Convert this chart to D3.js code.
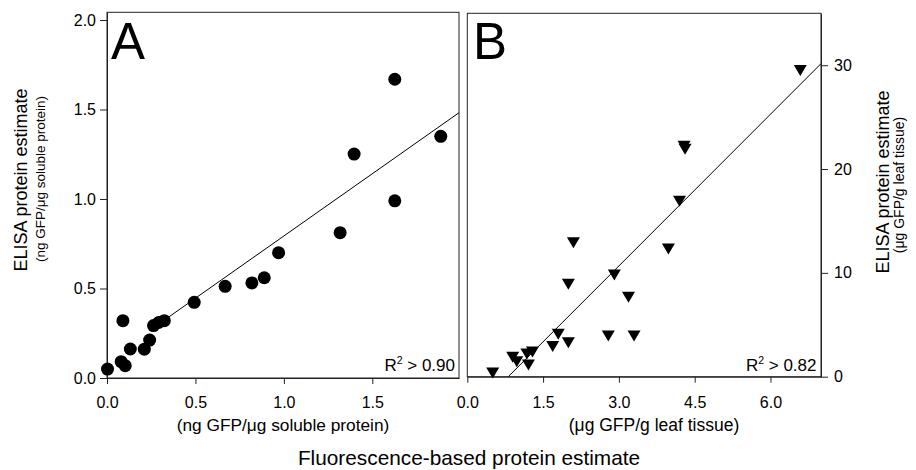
<!DOCTYPE html>
<html><head><meta charset="utf-8">
<script src="https://cdn.jsdelivr.net/npm/d3@7"></script>
<style>
body{margin:0;background:#fff;}
svg{display:block;font-family:"Liberation Sans",Arial,sans-serif;}
</style></head>
<body>
<svg id="c" width="916" height="470"></svg>
<script>
// Panel A: ng GFP/µg soluble protein
const aX = [0.003,0.08,0.103,0.09,0.132,0.211,0.241,0.263,0.292,0.324,0.493,0.668,0.819,0.889,0.97,1.318,1.397,1.627,1.627,1.887];
const aY = [0.05,0.091,0.069,0.32,0.162,0.161,0.212,0.293,0.31,0.32,0.423,0.512,0.531,0.56,0.70,0.812,1.251,0.99,1.669,1.35];
const aFitX = [0.24, 1.99];
const aFitY = [0.265, 1.482];
const aTicksX = [0, 0.5, 1.0, 1.5];
const aTicksY = [0, 0.5, 1.0, 1.5, 2.0];

// Panel B: µg GFP/g leaf tissue
const bX = [0.503,0.899,0.979,1.21,1.18,1.29,1.69,1.80,2.0,2.0,2.10,2.79,2.91,3.19,3.30,3.98,4.20,4.29,4.31,6.59];
const bY = [0.36,1.87,1.45,1.13,2.19,2.38,2.9,4.09,3.28,8.9,12.9,3.93,9.8,7.66,3.93,12.3,16.9,22.2,21.9,29.5];
const bFitX = [0.81, 7.0];
const bFitY = [0, 30.15];
const bTicksX = [0, 1.5, 3.0, 4.5, 6.0];
const bTicksY = [0, 10, 20, 30];

const svg = d3.select("#c");
const ink = "#000";

// ---------- Panel A ----------
const xA = d3.scaleLinear().domain([0, 1.99]).range([107, 459]);
const yA = d3.scaleLinear().domain([0, 2.043]).range([378, 12.3]);

const gA = svg.append("g");
gA.append("rect").attr("x", xA.range()[0]).attr("y", yA.range()[1])
  .attr("width", xA.range()[1]-xA.range()[0]).attr("height", yA.range()[0]-yA.range()[1])
  .attr("fill","none").attr("stroke","#222").attr("stroke-width",1);

gA.append("g").attr("transform",`translate(0,${yA.range()[0]})`)
  .call(d3.axisBottom(xA).tickValues(aTicksX).tickFormat(d3.format(".1f")).tickSize(6).tickPadding(13).tickSizeOuter(0));
gA.append("g").attr("transform",`translate(${xA.range()[0]},0)`)
  .call(d3.axisLeft(yA).tickValues(aTicksY).tickFormat(d3.format(".1f")).tickSize(7).tickPadding(4).tickSizeOuter(0));

gA.append("line").attr("x1", xA(aFitX[0])).attr("y1", yA(aFitY[0]))
  .attr("x2", xA(aFitX[1])).attr("y2", yA(aFitY[1])).attr("stroke", ink).attr("stroke-width",1);

gA.selectAll("circle.pt").data(aX.map((x,i)=>[x,aY[i]])).join("circle")
  .attr("class","pt").attr("cx",d=>xA(d[0])).attr("cy",d=>yA(d[1])).attr("r",6.5).attr("fill",ink);

gA.append("text").attr("x",111).attr("y",58.5).attr("font-size",51).text("A");
const rA = gA.append("text").attr("x",455).attr("y",371).attr("text-anchor","end").attr("font-size",17);
rA.append("tspan").text("R");
rA.append("tspan").attr("dy",-7).attr("font-size",10.5).text("2");
rA.append("tspan").attr("dy",7).text(" > 0.90");

gA.append("text").attr("x",283).attr("y",431)
  .attr("text-anchor","middle").attr("font-size",17.3).text("(ng GFP/\u03bcg soluble protein)");

gA.append("text").attr("transform","translate(26.5,180) rotate(-90)")
  .attr("text-anchor","middle").attr("font-size",18).text("ELISA protein estimate");
gA.append("text").attr("transform","translate(45,179) rotate(-90)")
  .attr("text-anchor","middle").attr("font-size",13.5).text("(ng GFP/\u03bcg soluble protein)");

// ---------- Panel B ----------
const xB = d3.scaleLinear().domain([0, 7]).range([467.3, 821]);
const yB = d3.scaleLinear().domain([0, 35]).range([376.7, 13.3]);

const gB = svg.append("g");
gB.append("rect").attr("x", xB.range()[0]).attr("y", yB.range()[1])
  .attr("width", xB.range()[1]-xB.range()[0]).attr("height", yB.range()[0]-yB.range()[1])
  .attr("fill","none").attr("stroke","#222").attr("stroke-width",1);

gB.append("g").attr("transform",`translate(0,${yB.range()[0]})`)
  .call(d3.axisBottom(xB).tickValues(bTicksX).tickFormat(d3.format(".1f")).tickSize(6).tickPadding(14).tickSizeOuter(0));
gB.append("g").attr("transform",`translate(${xB.range()[1]},0)`)
  .call(d3.axisRight(yB).tickValues(bTicksY).tickFormat(d3.format("d")).tickSize(7).tickPadding(6).tickSizeOuter(0));

gB.append("line").attr("x1", xB(bFitX[0])).attr("y1", yB(bFitY[0]))
  .attr("x2", xB(bFitX[1])).attr("y2", yB(bFitY[1])).attr("stroke", ink).attr("stroke-width",1);

const tri = "M-6.5,-5.5L6.5,-5.5L0,5.5Z";
gB.selectAll("path.pt").data(bX.map((x,i)=>[x,bY[i]])).join("path")
  .attr("class","pt").attr("d",tri)
  .attr("transform",d=>`translate(${xB(d[0])},${yB(d[1])})`).attr("fill",ink);

gB.append("text").attr("x",473).attr("y",58.5).attr("font-size",51).text("B");
const rB = gB.append("text").attr("x",816.5).attr("y",371).attr("text-anchor","end").attr("font-size",17);
rB.append("tspan").text("R");
rB.append("tspan").attr("dy",-7).attr("font-size",10.5).text("2");
rB.append("tspan").attr("dy",7).text(" > 0.82");

gB.append("text").attr("x",654).attr("y",431)
  .attr("text-anchor","middle").attr("font-size",17.5).text("(\u03bcg GFP/g leaf tissue)");

gB.append("text").attr("transform","translate(889,182) rotate(-90)")
  .attr("text-anchor","middle").attr("font-size",18).text("ELISA protein estimate");
gB.append("text").attr("transform","translate(903.5,185) rotate(-90)")
  .attr("text-anchor","middle").attr("font-size",14).text("(\u03bcg GFP/g leaf tissue)");

// shared x title
svg.append("text").attr("x",469).attr("y",465).attr("text-anchor","middle")
  .attr("font-size",20.8).text("Fluorescence-based protein estimate");

svg.selectAll(".tick text").attr("font-size",16).attr("fill",ink).attr("font-family","'Liberation Sans',Arial,sans-serif");
svg.selectAll(".domain").attr("stroke","#222");
svg.selectAll(".tick line").attr("stroke","#222");
</script>
</body></html>
